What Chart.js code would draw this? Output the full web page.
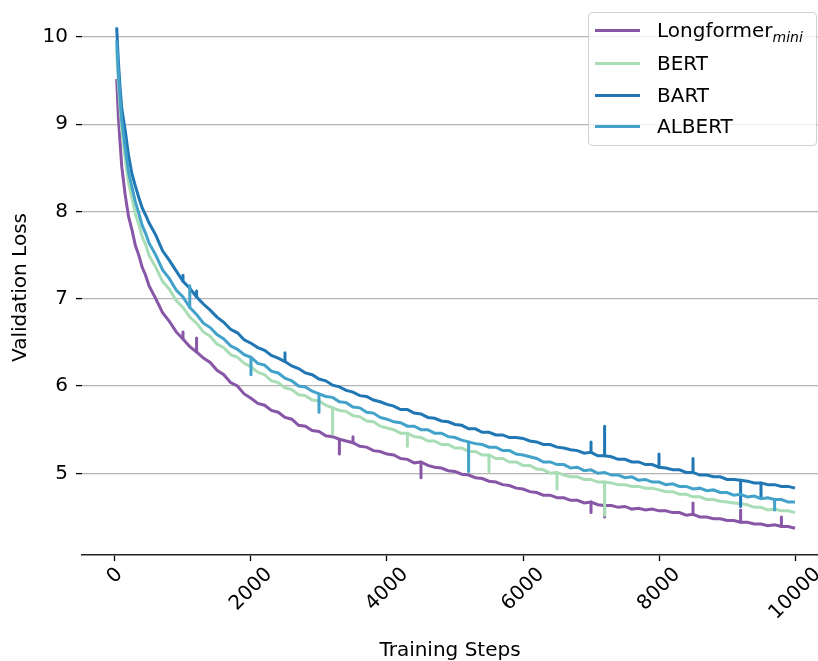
<!DOCTYPE html>
<html><head><meta charset="utf-8">
<script src="https://cdn.jsdelivr.net/npm/chart.js@4.4.1/dist/chart.umd.min.js"></script>
<style>
html,body{margin:0;padding:0;background:#fff;}
#wrap{position:relative;width:818px;height:661px;overflow:hidden;}
#legend{position:absolute;left:588px;top:12px;width:229px;height:134px;border:1px solid #d0d0d0;border-radius:4px;background:rgba(255,255,255,0.8);font-family:'DejaVu Sans';font-size:20px;color:#000;box-sizing:border-box;}
.lrow{position:absolute;left:0;height:30px;width:100%;}
.lline{position:absolute;left:6px;width:45px;height:3px;top:13.5px;}
.ltext{position:absolute;left:68px;top:0;line-height:30px;white-space:nowrap;}
.sub{font-style:italic;font-size:14px;position:relative;top:5px;}
</style></head>
<body>
<div id="wrap"><canvas id="c" width="818" height="661"></canvas><div id="legend"></div></div>
<script>
const seriesNames = ['Longformer', 'BERT', 'BART', 'ALBERT'];
const seriesSubs = ['mini', '', '', ''];
const seriesColors = ['#8856a7', '#a8ddb5', '#2077b4', '#43a2ca'];
const xTicks = [0, 2000, 4000, 6000, 8000, 10000];
const xTickLabels = ['0', '2000', '4000', '6000', '8000', '10000'];
const yTicks = [5, 6, 7, 8, 9, 10];
const yTickLabels = ['5', '6', '7', '8', '9', '10'];

const steps = [25,50,75,100,150,200,250,300,350,400,450,500,
 600,700,800,900,1000,1100,1200,1300,1400,1500,
 1600,1700,1800,1900,2000,2100,2200,2300,2400,2500,
 2600,2700,2800,2900,3000,3100,3200,3300,3400,3500,
 3600,3700,3800,3900,4000,4100,4200,4300,4400,4500,
 4600,4700,4800,4900,5000,5100,5200,5300,5400,5500,
 5600,5700,5800,5900,6000,6100,6200,6300,6400,6500,
 6600,6700,6800,6900,7000,7100,7200,7300,7400,7500,
 7600,7700,7800,7900,8000,8100,8200,8300,8400,8500,
 8600,8700,8800,8900,9000,9100,9200,9300,9400,9500,
 9600,9700,9800,9900,10000];

const longformer = [9.52,9.08,8.79,8.51,8.19,7.94,7.79,7.61,7.50,7.36,7.27,7.15,
 7.00,6.84,6.74,6.62,6.54,6.45,6.39,6.32,6.27,6.18,
 6.13,6.04,6.00,5.91,5.86,5.80,5.78,5.72,5.70,5.64,
 5.62,5.55,5.54,5.49,5.48,5.43,5.42,5.39,5.37,5.35,
 5.31,5.30,5.26,5.25,5.22,5.21,5.17,5.16,5.12,5.13,
 5.09,5.07,5.06,5.03,5.02,4.99,4.98,4.95,4.94,4.91,
 4.90,4.87,4.86,4.83,4.82,4.79,4.78,4.75,4.75,4.72,
 4.72,4.69,4.69,4.66,4.67,4.64,4.63,4.63,4.61,4.62,
 4.59,4.60,4.58,4.59,4.57,4.57,4.55,4.55,4.52,4.53,
 4.50,4.50,4.48,4.48,4.46,4.46,4.44,4.44,4.42,4.42,
 4.40,4.41,4.39,4.39,4.37];

const bert = [9.86,9.47,9.19,8.93,8.61,8.33,8.15,7.97,7.85,7.71,7.62,7.50,
 7.36,7.20,7.11,6.98,6.90,6.79,6.72,6.62,6.57,6.48,
 6.44,6.36,6.33,6.26,6.22,6.16,6.13,6.06,6.04,5.98,
 5.96,5.90,5.89,5.84,5.83,5.78,5.75,5.72,5.71,5.66,
 5.65,5.60,5.59,5.54,5.52,5.50,5.46,5.46,5.42,5.41,
 5.37,5.37,5.33,5.33,5.29,5.29,5.25,5.25,5.21,5.21,
 5.17,5.17,5.13,5.13,5.09,5.09,5.05,5.04,5.00,5.01,
 4.98,4.96,4.96,4.93,4.93,4.90,4.90,4.89,4.87,4.87,
 4.85,4.85,4.83,4.83,4.81,4.79,4.79,4.76,4.76,4.73,
 4.73,4.70,4.70,4.68,4.67,4.66,4.65,4.64,4.61,4.61,
 4.58,4.59,4.57,4.57,4.55];

const bart = [10.11,9.72,9.42,9.18,8.93,8.64,8.43,8.29,8.16,8.04,7.96,7.87,
 7.73,7.55,7.44,7.32,7.20,7.12,7.02,6.94,6.87,6.79,
 6.73,6.65,6.61,6.53,6.49,6.44,6.41,6.35,6.32,6.28,
 6.23,6.20,6.15,6.13,6.08,6.06,6.01,5.99,5.95,5.93,
 5.89,5.88,5.84,5.82,5.79,5.77,5.73,5.73,5.69,5.68,
 5.64,5.63,5.60,5.59,5.56,5.55,5.51,5.51,5.47,5.47,
 5.44,5.44,5.41,5.41,5.40,5.37,5.36,5.33,5.33,5.30,
 5.29,5.27,5.26,5.23,5.24,5.20,5.20,5.19,5.16,5.16,
 5.13,5.13,5.10,5.10,5.07,5.06,5.04,5.04,5.01,5.01,
 4.98,4.98,4.96,4.96,4.93,4.93,4.92,4.91,4.89,4.89,
 4.87,4.87,4.85,4.85,4.83];

const albert = [9.96,9.58,9.29,9.04,8.73,8.45,8.28,8.11,7.98,7.84,7.75,7.64,
 7.50,7.33,7.23,7.10,7.02,6.90,6.82,6.72,6.67,6.59,
 6.54,6.46,6.42,6.36,6.33,6.26,6.24,6.17,6.15,6.09,
 6.06,6.00,5.99,5.94,5.91,5.88,5.87,5.82,5.81,5.76,
 5.75,5.70,5.69,5.64,5.62,5.59,5.58,5.54,5.54,5.50,
 5.50,5.46,5.46,5.42,5.41,5.38,5.36,5.34,5.33,5.30,
 5.30,5.26,5.26,5.22,5.21,5.19,5.17,5.13,5.13,5.10,
 5.10,5.06,5.07,5.03,5.04,5.00,5.01,4.98,4.98,4.95,
 4.96,4.92,4.93,4.90,4.90,4.87,4.88,4.85,4.85,4.82,
 4.83,4.80,4.81,4.78,4.78,4.75,4.76,4.73,4.74,4.71,
 4.72,4.70,4.70,4.67,4.67];

// short vertical spikes: step where they occur and the value they reach
const longformerSpikeSteps = [1000, 1200, 3300, 3500, 4500, 7000, 7200, 8500, 9200, 9800];
const longformerSpikeValues = [6.62, 6.55, 5.22, 5.42, 4.95, 4.55, 4.50, 4.66, 4.58, 4.50];
const bertSpikeSteps = [3200, 4300, 5500, 6500, 7200];
const bertSpikeValues = [5.45, 5.31, 5.02, 4.82, 4.52];
const bartSpikeSteps = [1000, 1200, 2500, 7000, 7200, 8000, 8500, 9200, 9500];
const bartSpikeValues = [7.27, 7.09, 6.38, 5.36, 5.54, 5.22, 5.17, 4.62, 4.72];
const albertSpikeSteps = [1100, 2000, 3000, 5200, 9700];
const albertSpikeValues = [7.15, 6.13, 5.70, 5.02, 4.58];

const seriesValues = [longformer, bert, bart, albert];
const spikeSteps = [longformerSpikeSteps, bertSpikeSteps, bartSpikeSteps, albertSpikeSteps];
const spikeValues = [longformerSpikeValues, bertSpikeValues, bartSpikeValues, albertSpikeValues];
const FONT = 'DejaVu Sans';
const LW = 3;

const datasets = [];
seriesNames.forEach((n, i) => {
  datasets.push({
    label: n + seriesSubs[i],
    data: steps.map((s, k) => ({x: s, y: seriesValues[i][k]})),
    borderColor: seriesColors[i], backgroundColor: seriesColors[i],
    borderWidth: LW, pointRadius: 0, tension: 0, fill: false,
    order: seriesNames.length - 1 - i
  });
});
seriesNames.forEach((n, i) => {
  const pts = [];
  spikeSteps[i].forEach((s, k) => {
    const base = seriesValues[i][steps.indexOf(s)];
    pts.push({x: s, y: base}, {x: s, y: spikeValues[i][k]}, {x: s, y: null});
  });
  datasets.push({
    label: n + ' spikes', data: pts,
    borderColor: seriesColors[i], backgroundColor: seriesColors[i],
    borderWidth: LW, borderCapStyle: 'round', pointRadius: 0, tension: 0, fill: false, spanGaps: false,
    order: seriesNames.length - 1 - i
  });
});

const xLabelPlugin = {
  id: 'xlabels',
  afterDraw(chart) {
    const s = chart.scales.x;
    const ctx = chart.ctx;
    ctx.save();
    ctx.font = '20px "' + FONT + '"';
    ctx.fillStyle = '#000';
    ctx.textAlign = 'center';
    ctx.textBaseline = 'middle';
    s.ticks.forEach((t, i) => {
      const px = s.getPixelForValue(t.value);
      const label = xTickLabels[i];
      const w = ctx.measureText(label).width;
      const half = (w + 15) * Math.SQRT1_2 / 2;
      ctx.save();
      ctx.translate(px, s.top + 11 + half);
      ctx.rotate(-Math.PI / 4);
      ctx.fillText(label, 0, 0);
      ctx.restore();
    });
    ctx.restore();
  }
};

const htmlLegend = {
  id: 'htmlLegend',
  afterUpdate(chart) {
    const box = document.getElementById('legend');
    box.innerHTML = '';
    const centers = [17, 50, 82, 113];
    seriesNames.forEach((n, i) => {
      const row = document.createElement('div');
      row.className = 'lrow';
      row.style.top = (centers[i] - 15) + 'px';
      const line = document.createElement('div');
      line.className = 'lline';
      line.style.background = seriesColors[i];
      const txt = document.createElement('div');
      txt.className = 'ltext';
      txt.textContent = n;
      if (seriesSubs[i]) {
        const sub = document.createElement('span');
        sub.className = 'sub';
        sub.textContent = seriesSubs[i];
        txt.appendChild(sub);
      }
      row.appendChild(line);
      row.appendChild(txt);
      box.appendChild(row);
    });
  }
};

new Chart(document.getElementById('c'), {
  type: 'line',
  data: { datasets },
  plugins: [xLabelPlugin, htmlLegend],
  options: {
    responsive: false,
    animation: false,
    layout: { padding: { top: 2, left: 0, right: 0, bottom: 0 } },
    plugins: { legend: { display: false }, tooltip: { enabled: false } },
    scales: {
      x: {
        type: 'linear', min: -485, max: 10338,
        afterBuildTicks: s => { s.ticks = xTicks.map(v => ({ value: v })); },
        afterFit: s => { s.height = 106; },
        grid: { drawOnChartArea: false, drawTicks: true, tickLength: 6, tickColor: '#000', tickWidth: 1.3 },
        border: { display: true, color: '#222', width: 1.6 },
        ticks: { display: false },
        title: { display: true, text: 'Training Steps', color: '#000', font: { family: FONT, size: 20 }, padding: { top: 0, bottom: -2 } }
      },
      y: {
        type: 'linear', min: 4.064, max: 10.194,
        afterBuildTicks: s => { s.ticks = yTicks.map(v => ({ value: v })); },
        afterFit: s => { s.width = 82; },
        grid: { color: '#b5b5b5', lineWidth: 1.2, drawTicks: true, tickLength: 6, tickColor: '#000', tickWidth: 1.3 },
        border: { display: false },
        ticks: { color: '#000', padding: 8, font: { family: FONT, size: 20 },
          callback: (v) => { const k = yTicks.indexOf(v); return k >= 0 ? yTickLabels[k] : ''; } },
        title: { display: true, text: 'Validation Loss', color: '#000', font: { family: FONT, size: 20 }, padding: { top: 9, bottom: 0 } }
      }
    }
  }
});
</script>
</body></html>
